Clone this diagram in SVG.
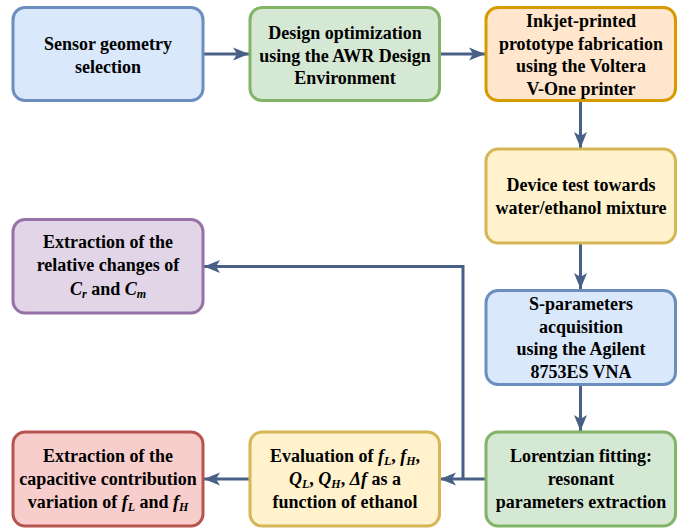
<svg xmlns="http://www.w3.org/2000/svg" width="684" height="529" viewBox="0 0 684 529">
<defs>
<marker id="ah" markerUnits="userSpaceOnUse" markerWidth="18" markerHeight="14" refX="16" refY="7" orient="auto">
<path d="M0,0.5 L16,7 L0,13.5 L4,7 Z" fill="#485f86"/>
</marker>
</defs>
<rect width="684" height="529" fill="#ffffff"/>
<g id="connectors" fill="none" stroke="#485f86" stroke-width="3">
<line x1="203" y1="54" x2="249" y2="54" marker-end="url(#ah)"/>
<line x1="439" y1="54" x2="485" y2="54" marker-end="url(#ah)"/>
<line x1="580.5" y1="101" x2="580.5" y2="148" marker-end="url(#ah)"/>
<line x1="580.5" y1="243" x2="580.5" y2="289" marker-end="url(#ah)"/>
<line x1="580.5" y1="385" x2="580.5" y2="431" marker-end="url(#ah)"/>
<line x1="486" y1="479" x2="440" y2="479" marker-end="url(#ah)"/>
<polyline points="463,479 463,266.5 204,266.5" marker-end="url(#ah)"/>
<line x1="250" y1="479" x2="204" y2="479" marker-end="url(#ah)"/>
</g>
<g id="n1"><rect fill="#dae8fc" stroke="#6c8ebf" stroke-width="3" x="13" y="7.5" width="190" height="93" rx="12"/>
<text style="font-family:'Liberation Serif',serif !important;font-weight:bold;font-size:18px" text-anchor="middle" x="108" y="50">Sensor geometry</text>
<text style="font-family:'Liberation Serif',serif !important;font-weight:bold;font-size:18px" text-anchor="middle" x="108" y="73">selection</text></g>
<g id="n2"><rect fill="#d5e8d4" stroke="#82b366" stroke-width="3" x="250" y="7.5" width="189.5" height="93" rx="12"/>
<text font-family="Times New Roman" font-weight="bold" font-size="18" text-anchor="middle" x="345" y="39">Design optimization</text>
<text font-family="Times New Roman" font-weight="bold" font-size="18" text-anchor="middle" x="345" y="61.5">using the AWR Design</text>
<text font-family="Times New Roman" font-weight="bold" font-size="18" text-anchor="middle" x="345" y="84">Environment</text></g>
<g id="n3"><rect fill="#ffe6cc" stroke="#d79b00" stroke-width="3" x="486" y="7.5" width="189.5" height="93" rx="12"/>
<g><text font-family="Liberation Serif" font-weight="bold" font-size="18" text-anchor="middle" x="581" y="27">Inkjet-printed</text>
<text font-family="Liberation Serif" font-weight="bold" font-size="18" text-anchor="middle" x="581" y="49.5">prototype fabrication</text>
<text font-family="Liberation Serif" font-weight="bold" font-size="18" text-anchor="middle" x="581" y="72">using the Voltera</text>
<text font-family="Liberation Serif" font-weight="bold" font-size="18" text-anchor="middle" x="581" y="94.5">V-One printer</text></g></g>
<g id="n4"><rect fill="#fff2cc" stroke="#d6b656" stroke-width="3" x="486" y="149" width="189.5" height="94" rx="12"/>
<text style="font-family:'Liberation Serif',serif !important;font-weight:bold;font-size:18px" text-anchor="middle" x="581" y="191">Device test towards</text>
<text style="font-family:'Liberation Serif',serif !important;font-weight:bold;font-size:18px" text-anchor="middle" x="581" y="214">water/ethanol mixture</text></g>
<g id="n5"><rect fill="#e1d5e7" stroke="#9673a6" stroke-width="3" x="13" y="219.5" width="190" height="93.5" rx="12"/>
<text style="font-family:'Liberation Serif',serif !important;font-weight:bold;font-size:18px" text-anchor="middle" x="108" y="248">Extraction of the</text>
<text style="font-family:'Liberation Serif',serif !important;font-weight:bold;font-size:18px" text-anchor="middle" x="108" y="271">relative changes of</text>
<text style="font-family:'Liberation Serif',serif !important;font-weight:bold;font-size:18px" text-anchor="middle" x="108" y="295"><tspan font-style="italic">C</tspan><tspan font-style="italic" font-size="12" dy="3">r</tspan><tspan dy="-3"> and </tspan><tspan font-style="italic">C</tspan><tspan font-style="italic" font-size="12" dy="3">m</tspan></text></g>
<g id="n6"><rect fill="#dae8fc" stroke="#6c8ebf" stroke-width="3" x="486" y="290.5" width="189.5" height="94" rx="12"/>
<text style="font-family:'Liberation Serif',serif !important;font-weight:bold;font-size:18px" text-anchor="middle" x="581" y="310">S-parameters</text>
<text style="font-family:'Liberation Serif',serif !important;font-weight:bold;font-size:18px" text-anchor="middle" x="581" y="332.5">acquisition</text>
<text style="font-family:'Liberation Serif',serif !important;font-weight:bold;font-size:18px" text-anchor="middle" x="581" y="355">using the Agilent</text>
<text style="font-family:'Liberation Serif',serif !important;font-weight:bold;font-size:18px" text-anchor="middle" x="581" y="377.5">8753ES VNA</text></g>
<g id="n7"><rect fill="#f8cecc" stroke="#b85450" stroke-width="3" x="13" y="432" width="190" height="94" rx="12"/>
<text style="font-family:'Liberation Serif',serif !important;font-weight:bold;font-size:18px" text-anchor="middle" x="108" y="462">Extraction of the</text>
<text style="font-family:'Liberation Serif',serif !important;font-weight:bold;font-size:18px" text-anchor="middle" x="108" y="485">capacitive contribution</text>
<text style="font-family:'Liberation Serif',serif !important;font-weight:bold;font-size:18px" text-anchor="middle" x="108" y="508">variation of <tspan font-style="italic">f</tspan><tspan font-style="italic" font-size="12" dy="3">L</tspan><tspan dy="-3"> and </tspan><tspan font-style="italic">f</tspan><tspan font-style="italic" font-size="12" dy="3">H</tspan></text></g>
<g id="n8"><rect fill="#fff2cc" stroke="#d6b656" stroke-width="3" x="250" y="432" width="189.5" height="94" rx="12"/>
<text style="font-family:'Liberation Serif',serif !important;font-weight:bold;font-size:18px" text-anchor="middle" x="345" y="462">Evaluation of <tspan font-style="italic">f</tspan><tspan font-style="italic" font-size="12" dy="3">L</tspan><tspan dy="-3">, </tspan><tspan font-style="italic">f</tspan><tspan font-style="italic" font-size="12" dy="3">H</tspan><tspan dy="-3">,</tspan></text>
<text style="font-family:'Liberation Serif',serif !important;font-weight:bold;font-size:18px" text-anchor="middle" x="345" y="485"><tspan font-style="italic">Q</tspan><tspan font-style="italic" font-size="12" dy="3">L</tspan><tspan dy="-3">, </tspan><tspan font-style="italic">Q</tspan><tspan font-style="italic" font-size="12" dy="3">H</tspan><tspan dy="-3">, </tspan><tspan font-style="italic">Δf</tspan><tspan> as a</tspan></text>
<text style="font-family:'Liberation Serif',serif !important;font-weight:bold;font-size:18px" text-anchor="middle" x="345" y="508">function of ethanol</text></g>
<g id="n9"><rect fill="#d5e8d4" stroke="#82b366" stroke-width="3" x="486" y="432" width="189.5" height="94" rx="12"/>
<text style="font-family:'Liberation Serif',serif !important;font-weight:bold;font-size:18px" text-anchor="middle" x="581" y="462">Lorentzian fitting:</text>
<text style="font-family:'Liberation Serif',serif !important;font-weight:bold;font-size:18px" text-anchor="middle" x="581" y="485">resonant</text>
<text style="font-family:'Liberation Serif',serif !important;font-weight:bold;font-size:18px" text-anchor="middle" x="581" y="508">parameters extraction</text></g>
</svg>
